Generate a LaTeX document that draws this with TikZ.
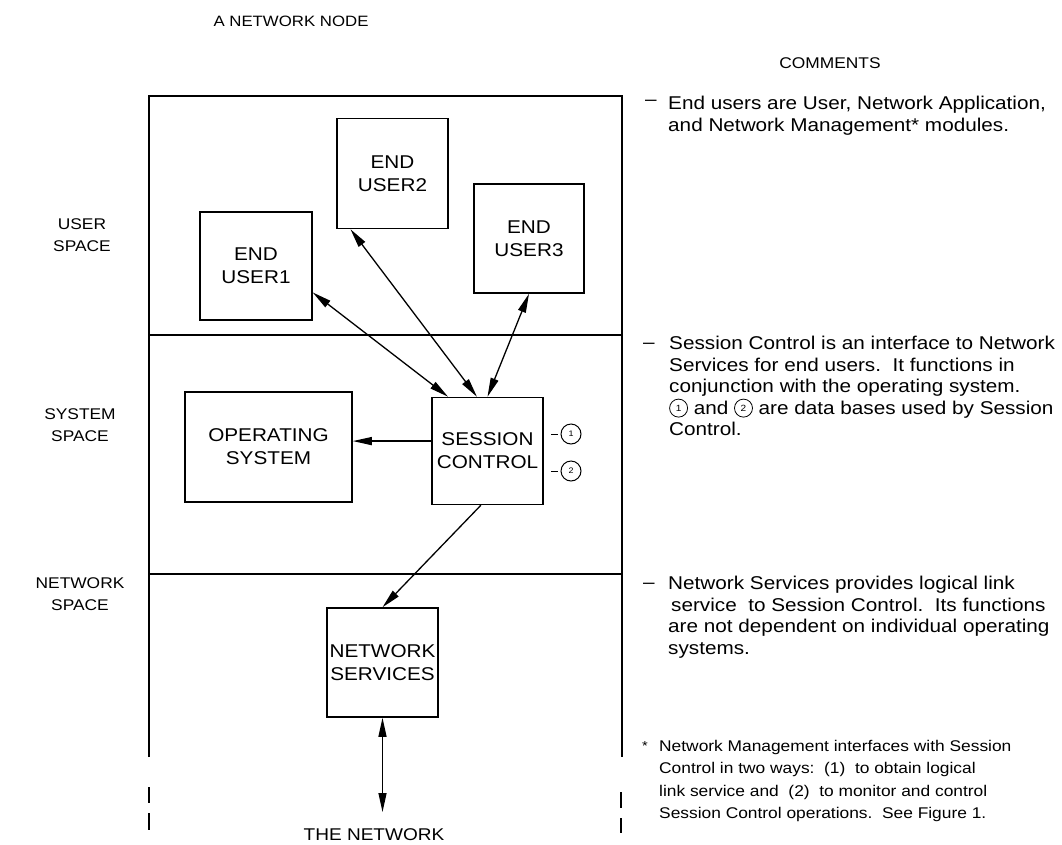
\documentclass[tikz,border=0pt]{standalone}
\usepackage{fontspec}
\setmainfont{Liberation Sans}[FakeStretch=1.12]
\usetikzlibrary{arrows.meta,calc}
\newcommand{\dbnum}[1]{\tikz[baseline={([yshift=-6pt]dbn.center)}]\node[draw,circle,line width=0.8pt,inner sep=0pt,minimum size=18pt,font=\fontsize{9}{9}\selectfont](dbn){#1};}
\begin{document}
\begin{tikzpicture}[x=1pt,y=-1pt,
  frame/.style={line width=2pt},
  box/.style={draw,line width=1.5pt,align=center,inner sep=0pt,font=\fontsize{18.5}{23}\selectfont},
  link/.style={line width=1.3pt},
  both/.style={{Triangle[length=19pt,width=8pt]}-{Triangle[length=19pt,width=8pt]}},
  onetip/.style={-{Triangle[length=19pt,width=8pt]}},
  sidelabel/.style={align=center,font=\fontsize{15.5}{22}\selectfont},
  note/.style={align=left,anchor=north west,inner sep=0pt,font=\fontsize{18.5}{21.5}\selectfont},
  smallnote/.style={align=left,anchor=north west,inner sep=0pt,font=\fontsize{15.5}{22.4}\selectfont},
  dashmark/.style={inner sep=0pt,font=\fontsize{18.5}{21.5}\selectfont},
  db/.style={draw,circle,line width=1pt,inner sep=0pt,minimum size=20pt,font=\fontsize{8}{8}\selectfont},
]
\useasboundingbox (0,0) rectangle (1062,844);

% headings
\node[font=\fontsize{15}{18}\selectfont] (title) at (291,21) {A NETWORK NODE};
\node[font=\fontsize{15.5}{18}\selectfont] (comments) at (830,63) {COMMENTS};

% side labels
\node[sidelabel] (us) at (82,235) {USER\\SPACE};
\node[sidelabel] (ss) at (80,425) {SYSTEM\\SPACE};
\node[sidelabel] (ns) at (80,594) {NETWORK\\SPACE};

% frame
\draw[frame] (149,757) -- (149,96) -- (622,96) -- (622,757);
\draw[frame] (149,335) -- (622,335);
\draw[frame] (149,574) -- (622,574);
\draw[frame] (149,787) -- (149,803);
\draw[frame] (149,813) -- (149,830);
\draw[frame] (621,792) -- (621,808);
\draw[frame] (621,818) -- (621,833);

% boxes
\node[box,minimum width=112pt,minimum height=108pt] (eu1) at (256,266) {END\\USER1};
\node[box,minimum width=111pt,minimum height=110pt] (eu2) at (392.5,173.5) {END\\USER2};
\node[box,minimum width=110pt,minimum height=109pt] (eu3) at (529,238.5) {END\\USER3};
\node[box,minimum width=167pt,minimum height=110pt] (os) at (268.5,447) {OPERATING\\SYSTEM};
\node[box,minimum width=111pt,minimum height=107pt] (sc) at (487.5,451) {SESSION\\CONTROL};
\node[box,minimum width=111pt,minimum height=109pt] (nsv) at (382.5,662.5) {NETWORK\\SERVICES};

% data bases
\node[db] (c1) at (571,434) {1};
\node[db] (c2) at (571,471) {2};
\draw[line width=0.9pt] ($(c1.west)+(-3,0)$) -- ++(-7,0);
\draw[line width=0.9pt] ($(c2.west)+(-3,0)$) -- ++(-7,0);

% connectors
\draw[link,both] (eu1.-25) -- (sc.126);
\draw[link,both] (eu2.-127) -- (sc.101);
\draw[link,both] (eu3.south) -- (sc.north);
\draw[link,onetip] (sc.170) -- (sc.170 -| os.east);
\draw[link,onetip] (sc.-97) -- (nsv.north);
\coordinate (netend) at (382.5,812);
\draw[link,both] (nsv.south) -- (netend);
\node[font=\fontsize{17}{18}\selectfont,anchor=north] (net) at (374,825) {THE NETWORK};

% comments
\node[dashmark] (m1) at (651,103) {--};
\node[note] (n1) at (668,96) {End users are User, Network Application,\\and Network Management* modules.};

\node[dashmark] (m2) at (649,346) {--};
\node[note] (n2) at (669,336) {Session Control is an interface to Network\\
Services for end users.\ \ It functions in\\
conjunction with the operating system.\\
\dbnum{1} and \dbnum{2}\ are data bases used by Session\\
Control.};

\node[dashmark] (m3) at (649,586) {--};
\node[note] (n3) at (668,576) {Network Services provides logical link\\
\hspace{3pt}service\ \ to Session Control.\ \ Its functions\\
are not dependent on individual operating\\
systems.};

\node[inner sep=0pt,font=\fontsize{13}{15}\selectfont] (star) at (645,746) {*};
\node[smallnote] (n4) at (659,740) {Network Management interfaces with Session\\
Control in two ways:\ \ (1)\ \ to obtain logical\\
link service and\ \ (2)\ \ to monitor and control\\
Session Control operations.\ \ See Figure 1.};
\end{tikzpicture}
\end{document}
